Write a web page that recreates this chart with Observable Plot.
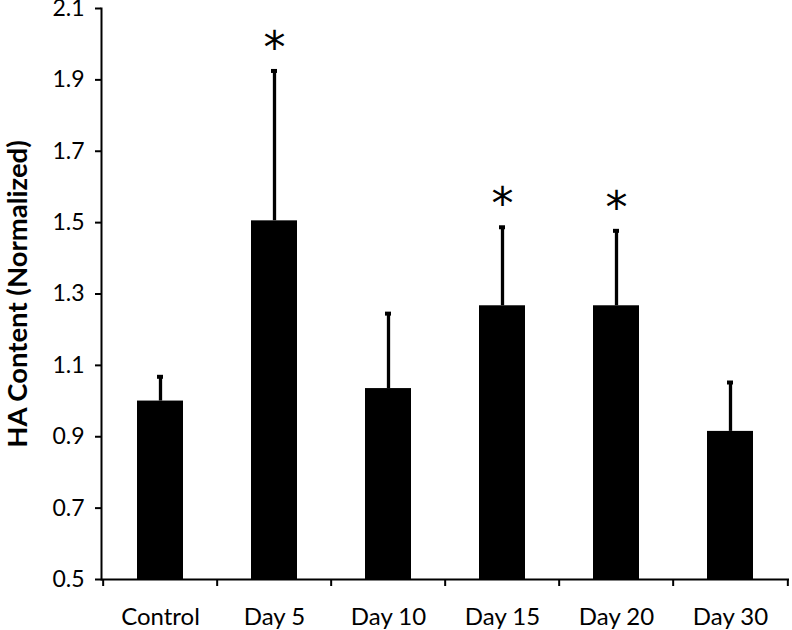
<!DOCTYPE html>
<html>
<head>
<meta charset="utf-8">
<script src="https://cdn.jsdelivr.net/npm/d3@7"></script>
<script src="https://cdn.jsdelivr.net/npm/@observablehq/plot@0.6"></script>
<style>
  html, body { margin: 0; padding: 0; background: #fff; }
  #chart svg { display: block; }
</style>
</head>
<body>
<div id="chart"></div>
<script>
const categories = ["Control", "Day 5", "Day 10", "Day 15", "Day 20", "Day 30"];
const means = [1.00, 1.505, 1.035, 1.267, 1.267, 0.915];
const errors = [0.068, 0.42, 0.21, 0.22, 0.21, 0.137];
const significant = [false, true, false, true, true, false];
const yTicks = [0.5, 0.7, 0.9, 1.1, 1.3, 1.5, 1.7, 1.9, 2.1];

const data = categories.map((c, i) => ({
  cat: c, value: means[i], upper: means[i] + errors[i], sig: significant[i]
}));

const W = 792, H = 630;
const mL = 101, mR = 3, mT = 8, mB = 51;
const step = (W - mL - mR) / categories.length;
const font = "Lato, 'Open Sans', sans-serif";

const chart = Plot.plot({
  width: W, height: H,
  marginLeft: mL, marginRight: mR, marginTop: mT, marginBottom: mB,
  style: { fontFamily: font, fontSize: "23px", color: "#000", background: "#fff" },
  x: { domain: categories, paddingInner: 0.6, paddingOuter: 0.3, align: 0.5 },
  y: { domain: [0.5, 2.1] },
  marks: [
    Plot.barY(data, { x: "cat", y1: 0.5, y2: "value", fill: "#000" }),
    Plot.ruleX(data, { x: "cat", y1: "value", y2: "upper", stroke: "#000", strokeWidth: 3.3 }),
    Plot.tickY(data, { x: "cat", y: "upper", stroke: "#000", strokeWidth: 4, insetLeft: 20, insetRight: 20 }),
    Plot.text(data.filter(d => d.sig), { x: "cat", y: "upper", text: () => "*", fontSize: 44, dy: -22, fill: "#000", fontFamily: "'DejaVu Sans', sans-serif" }),
    Plot.axisY({ ticks: yTicks, tickFormat: d3.format(".1f"), tickSize: 6, tickPadding: 11, strokeWidth: 2, label: null, fontSize: 23 }),
    Plot.axisX({ ticks: categories, tickSize: 7, strokeWidth: 2, dx: -step / 2, text: null, label: null }),
    Plot.axisX({ ticks: categories.slice(-1), tickSize: 7, strokeWidth: 2, dx: step / 2, text: null, label: null }),
    Plot.axisX({ ticks: categories, tickSize: 0, tickPadding: 28, label: null, fontSize: 24 }),
    Plot.ruleY([0.5], { stroke: "#000", strokeWidth: 2 }),
    Plot.frame({ anchor: "left", stroke: "#000", strokeWidth: 2 }),
    Plot.text(["HA Content (Normalized)"], {
      frameAnchor: "left", textAnchor: "middle", text: d => d, rotate: -90, dx: -83,
      fontSize: 27.5, fontWeight: "bold", fill: "#000"
    })
  ]
});
document.getElementById("chart").appendChild(chart);
</script>
</body>
</html>
